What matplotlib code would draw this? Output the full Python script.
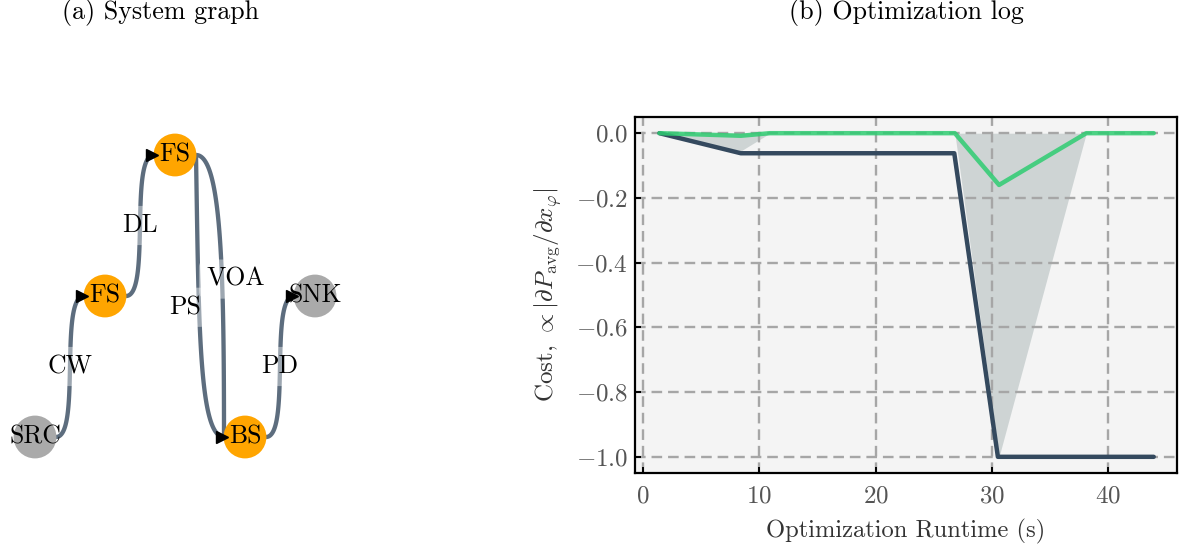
import numpy as np
import matplotlib
matplotlib.use("Agg")
import matplotlib.pyplot as plt

plt.rcParams['font.family'] = 'cmr10'
plt.rcParams['mathtext.fontset'] = 'cm'
plt.rcParams['axes.formatter.use_mathtext'] = True
plt.rcParams['axes.unicode_minus'] = True

# ---------------- data ----------------
# system graph (layout grid positions)
node_names = ['SRC', 'FS', 'FS', 'BS', 'SNK']
node_x = [0, 1, 2, 3, 4]
node_y = [0, 1, 2, 0, 1]
node_is_io = [True, False, False, False, True]

edge_src = [0, 1, 2, 2, 3]
edge_dst = [1, 2, 3, 3, 4]
edge_labels = ['CW', 'DL', 'PS', 'VOA', 'PD']

# optimization log
t_total = [1.4, 8.4, 26.75, 30.5, 43.9]
cost_total = [0.0, -0.062, -0.062, -1.0, -1.0]
t_comp = [1.4, 8.4, 10.9, 26.8, 30.6, 38.1, 43.9]
cost_comp = [0.0, -0.008, 0.0, 0.0, -0.16, 0.0, 0.0]
t_band = [1.4, 8.4, 10.9, 26.8, 30.6, 38.1, 43.9]
band_lo = [0.0, -0.055, 0.0, 0.0, -1.0, 0.0, 0.0]
band_hi = [0.0, 0.0, 0.0, 0.0, 0.0, 0.0, 0.0]

x_ticks = [0, 10, 20, 30, 40]
y_ticks = [0.0, -0.2, -0.4, -0.6, -0.8, -1.0]

# ---------------- figure ----------------
W, H = 1186, 556
fig = plt.figure(figsize=(W / 100, H / 100), dpi=100)

# ---- (a) system graph ----
ax0 = fig.add_axes([0, 0, 400 / W, 1])
ax0.set_axis_off()
ux, uy = 70.0, 141.0
ax0.set_xlim(-35 / ux, (400 - 35) / ux)
ax0.set_ylim(-119 / uy, (H - 119) / uy)

edge_col = '#5d6d7e'
r = 0.3  # node radius in x units


def bezier(P0, P1, P2, P3, n=120):
    t = np.linspace(0, 1, n)[:, None]
    return ((1 - t) ** 3) * P0 + 3 * ((1 - t) ** 2) * t * P1 + 3 * (1 - t) * t ** 2 * P2 + t ** 3 * P3


# curve style per edge: (start_dx_frac, start_dy_frac, end_dx_frac, end_dy_frac)
edge_shape = [(0.9, 0, 0.9, 0), (0.9, 0, 0.9, 0), (0.1, 0.6, 0.9, 0), (0.9, 0, 0.0, 0.6), (0.9, 0, 0.9, 0)]
label_off_x = [0, 0, -0.36, 0.37, 0]
label_off_y = [0, 0, -0.08, 0.12, 0]

for k in range(len(edge_src)):
    s, d = edge_src[k], edge_dst[k]
    P0 = np.array([node_x[s] + r, node_y[s]], float)
    P3 = np.array([node_x[d] - r, node_y[d]], float)
    dx, dy = P3 - P0
    a, b, c, e = edge_shape[k]
    P1 = P0 + np.array([a * dx, b * dy])
    P2 = P3 - np.array([c * dx, e * dy])
    pts = bezier(P0, P1, P2, P3)
    ax0.plot(pts[:, 0], pts[:, 1], color=edge_col, lw=3.1, zorder=1, solid_capstyle='butt')
    mx = (node_x[s] + node_x[d]) / 2 + label_off_x[k]
    my = (node_y[s] + node_y[d]) / 2 + label_off_y[k]
    ax0.text(mx, my, edge_labels[k], fontsize=18.5, ha='center', va='center', zorder=4,
             bbox=dict(boxstyle='round,pad=0.3', fc='white', ec='none', alpha=0.4))

node_cols = ['#aaaaaa' if io else '#ffa500' for io in node_is_io]
ax0.scatter(node_x, node_y, s=950, c=node_cols, edgecolors='none', zorder=2)
for k in range(len(node_names)):
    ax0.text(node_x[k], node_y[k], node_names[k], fontsize=18.5, ha='center', va='center', zorder=5)

# arrow heads at targets
tx = [node_x[d] - 0.33 for d in sorted(set(edge_dst))]
ty = [node_y[d] for d in sorted(set(edge_dst))]
ax0.plot(tx, ty, ls='none', marker='>', ms=9, color='black', zorder=3)

# ---- (b) optimization log ----
ax1 = fig.add_axes([635 / W, (H - 473) / H, (1177 - 635) / W, (473 - 117) / H])
ax1.set_facecolor('#f4f4f4')
ax1.fill_between(t_band, band_lo, band_hi, color='#95a5a6', alpha=0.4, lw=0, zorder=1)
ax1.plot(t_total, cost_total, color='#34495e', lw=3.2, solid_capstyle='round', zorder=3)
ax1.plot(t_comp, cost_comp, color='#2ecc71', lw=3.2, alpha=0.85, solid_capstyle='round', zorder=4)
ax1.set_xlim(-0.7, 45.9)
ax1.set_ylim(-1.05, 0.05)
ax1.set_xticks(x_ticks)
ax1.set_yticks(y_ticks)
ax1.yaxis.set_major_formatter(matplotlib.ticker.FormatStrFormatter(r'$%.1f$'))
ax1.xaxis.set_major_formatter(matplotlib.ticker.FormatStrFormatter(r'$%d$'))
ax1.grid(True, color='#a6a6a6', lw=1.7, ls=(0, (4.5, 2.5)))
ax1.set_axisbelow(False)
for sp in ax1.spines.values():
    sp.set_linewidth(1.6)
    sp.set_color('black')
    sp.set_zorder(6)
ax1.tick_params(direction='in', length=4, width=1.4, colors='black', labelcolor='#555555',
                labelsize=18, top=False, right=False)
ax1.tick_params(axis='x', pad=9)
ax1.tick_params(axis='y', pad=5)
ax1.set_xlabel('Optimization Runtime (s)', fontsize=17.7, color='#333333', labelpad=8)
ax1.set_ylabel(r'Cost, $\propto |\partial P_{\mathrm{avg}}/\partial x_{\varphi}|$', fontsize=18,
               color='#333333', labelpad=8)

fig.text(160 / W, 1 - 13 / H, '(a) System graph', fontsize=18.7, ha='center', va='center')
fig.text(906 / W, 1 - 12 / H, '(b) Optimization log', fontsize=18.7, ha='center', va='center')

fig.savefig('out.png', dpi=100)
